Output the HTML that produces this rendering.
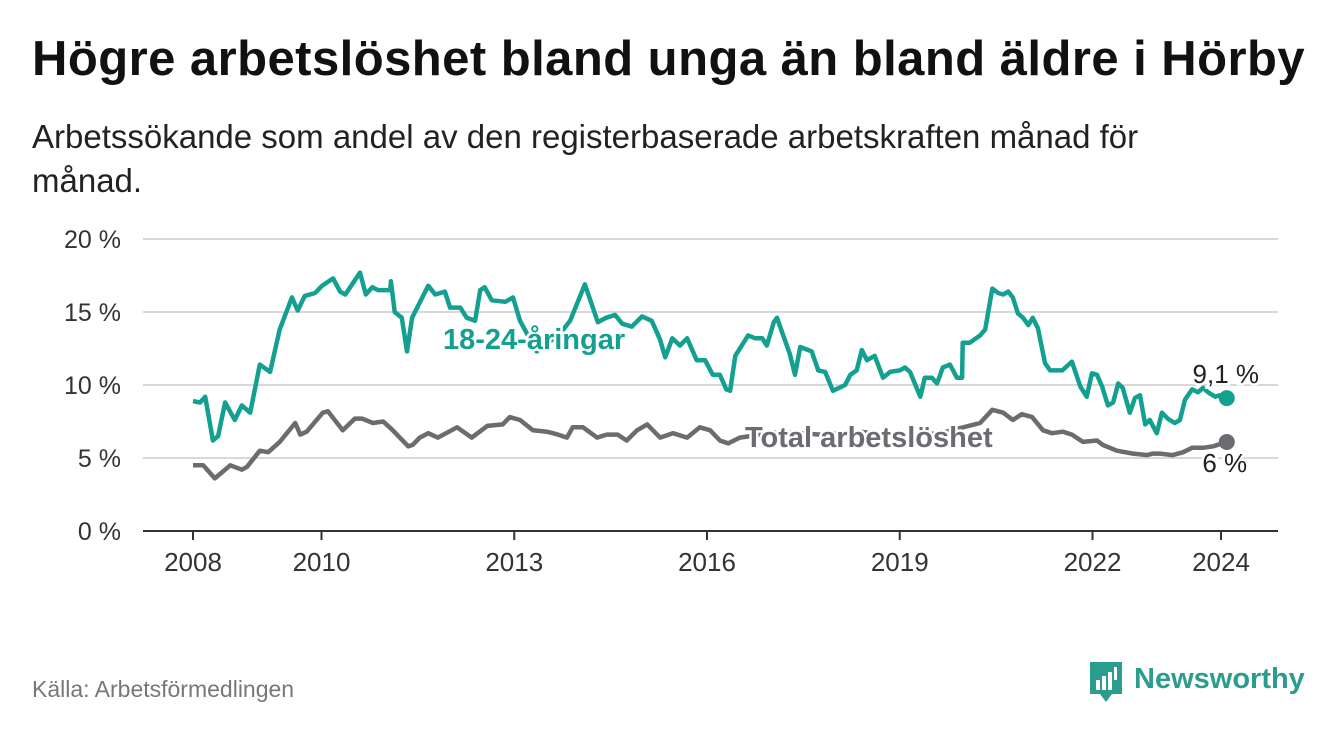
<!DOCTYPE html>
<html><head><meta charset="utf-8"><style>
body{margin:0;background:#fff;font-family:"Liberation Sans",sans-serif;}
#wrap{position:relative;width:1340px;height:734px;overflow:hidden;}
h1{position:absolute;left:32px;top:31px;margin:0;font-size:49px;font-weight:bold;color:#111;white-space:nowrap;letter-spacing:0.45px;}
.sub{position:absolute;left:32px;top:115px;margin:0;font-size:33px;line-height:44px;color:#222;width:1185px;}
.src{position:absolute;left:32px;top:676px;font-size:23px;color:#777;}
.logo{position:absolute;left:1088px;top:660px;}
</style></head><body><div id="wrap">
<h1>Högre arbetslöshet bland unga än bland äldre i Hörby</h1>
<p class="sub">Arbetssökande som andel av den registerbaserade arbetskraften månad för månad.</p>
<svg id="chart" width="1340" height="734" style="position:absolute;left:0;top:0"></svg>
<div class="src">Källa: Arbetsförmedlingen</div>
<div class="logo">
<svg width="220" height="46"><path d="M2 2h32v32h-10l-6 8-6-8h-10z" fill="#2a9d8f"/><rect x="8" y="20" width="4" height="10" fill="#fff"/><rect x="14" y="16" width="4" height="14" fill="#fff"/><rect x="20" y="12" width="4" height="18" fill="#fff"/><rect x="26" y="7" width="3" height="13" fill="#fff"/><text x="46" y="28" font-size="29" font-weight="bold" fill="#2a9d8f" font-family="Liberation Sans,sans-serif">Newsworthy</text></svg></div>
</div>
<script>
const yTicks=[0,5,10,15,20];
const xTicks=[2008,2010,2013,2016,2019,2022,2024];
const youthYears=[2008.00,2008.11,2008.19,2008.31,2008.39,2008.50,2008.65,2008.76,2008.89,2009.04,2009.20,2009.35,2009.54,2009.63,2009.74,2009.90,2010.01,2010.18,2010.29,2010.37,2010.60,2010.69,2010.79,2010.88,2011.07,2011.08,2011.14,2011.25,2011.33,2011.41,2011.66,2011.77,2011.92,2012.00,2012.16,2012.26,2012.39,2012.47,2012.54,2012.65,2012.86,2012.98,2013.09,2013.35,2013.56,2013.71,2013.87,2014.10,2014.30,2014.43,2014.57,2014.68,2014.83,2014.99,2015.14,2015.27,2015.35,2015.46,2015.58,2015.69,2015.84,2015.97,2016.09,2016.20,2016.30,2016.36,2016.44,2016.64,2016.75,2016.86,2016.93,2017.04,2017.09,2017.29,2017.37,2017.45,2017.63,2017.73,2017.84,2017.96,2018.15,2018.23,2018.33,2018.41,2018.49,2018.61,2018.74,2018.85,2019.00,2019.08,2019.16,2019.32,2019.39,2019.50,2019.58,2019.67,2019.78,2019.89,2019.97,2019.98,2020.09,2020.25,2020.33,2020.44,2020.53,2020.61,2020.69,2020.76,2020.84,2020.92,2021.00,2021.07,2021.15,2021.26,2021.34,2021.53,2021.68,2021.81,2021.91,2021.99,2022.07,2022.15,2022.24,2022.32,2022.40,2022.47,2022.58,2022.66,2022.74,2022.82,2022.89,2023.00,2023.08,2023.17,2023.28,2023.36,2023.44,2023.55,2023.64,2023.72,2023.80,2023.91,2023.98,2024.09];
const youthValues=[8.9,8.8,9.2,6.2,6.5,8.8,7.6,8.6,8.1,11.4,10.9,13.8,16.0,15.1,16.1,16.3,16.8,17.3,16.4,16.2,17.7,16.2,16.7,16.5,16.5,17.1,15.0,14.6,12.3,14.6,16.8,16.2,16.4,15.3,15.3,14.6,14.4,16.5,16.7,15.8,15.7,16.0,14.4,12.3,13.0,13.5,14.4,16.9,14.3,14.6,14.8,14.2,14.0,14.7,14.4,13.1,11.9,13.2,12.7,13.2,11.7,11.7,10.7,10.7,9.7,9.6,12.0,13.4,13.2,13.2,12.7,14.3,14.6,12.1,10.7,12.6,12.3,11.0,10.9,9.6,10.0,10.7,11.0,12.4,11.7,12.0,10.5,10.9,11.0,11.2,10.9,9.2,10.5,10.5,10.1,11.2,11.4,10.5,10.5,12.9,12.9,13.4,13.8,16.6,16.3,16.2,16.4,16.0,14.9,14.6,14.1,14.6,13.9,11.5,11.0,11.0,11.6,9.9,9.2,10.8,10.7,9.9,8.6,8.8,10.1,9.8,8.1,9.1,9.3,7.3,7.6,6.7,8.1,7.7,7.4,7.6,9.0,9.7,9.5,9.8,9.5,9.2,9.3,9.1];
const totalYears=[2008.00,2008.16,2008.34,2008.58,2008.76,2008.84,2009.04,2009.17,2009.35,2009.59,2009.67,2009.77,2010.02,2010.10,2010.33,2010.52,2010.63,2010.80,2010.96,2011.11,2011.35,2011.42,2011.53,2011.66,2011.81,2012.11,2012.34,2012.58,2012.82,2012.93,2013.09,2013.29,2013.51,2013.68,2013.82,2013.91,2014.07,2014.29,2014.44,2014.61,2014.75,2014.91,2015.07,2015.27,2015.47,2015.69,2015.89,2016.05,2016.20,2016.33,2016.51,2017.14,2017.76,2018.38,2019.00,2019.63,2020.25,2020.44,2020.61,2020.76,2020.90,2021.06,2021.23,2021.37,2021.54,2021.68,2021.85,2022.07,2022.16,2022.38,2022.63,2022.85,2022.94,2023.05,2023.25,2023.41,2023.55,2023.72,2023.88,2024.09];
const totalValues=[4.5,4.5,3.6,4.5,4.2,4.4,5.5,5.4,6.1,7.4,6.6,6.8,8.1,8.2,6.9,7.7,7.7,7.4,7.5,6.9,5.8,5.9,6.4,6.7,6.4,7.1,6.4,7.2,7.3,7.8,7.6,6.9,6.8,6.6,6.4,7.1,7.1,6.4,6.6,6.6,6.2,6.9,7.3,6.4,6.7,6.4,7.1,6.9,6.2,6.0,6.4,6.8,6.6,6.8,6.5,6.7,7.4,8.3,8.1,7.6,8.0,7.8,6.9,6.7,6.8,6.6,6.1,6.2,5.9,5.5,5.3,5.2,5.3,5.3,5.2,5.4,5.7,5.7,5.8,6.1];
const lastYouthLabel="9,1 %", lastTotalLabel="6 %";

const NS="http://www.w3.org/2000/svg";const svg=document.getElementById('chart');
const X=y=>193+(y-2008)*64.25, Y=v=>531-v*14.6;
function mk(t,a,p){const e=document.createElementNS(NS,t);for(const k in a)e.setAttribute(k,a[k]);(p||svg).appendChild(e);return e;}
yTicks.forEach(t=>{
 const l=mk('line',{x1:143,x2:1278,y1:Y(t),y2:Y(t),stroke:t===0?'#333':'#d8d8d8','stroke-width':2});
 
 
 const tx=mk('text',{x:121,y:Y(t)+9,'text-anchor':'end','font-size':25,fill:'#333'});tx.textContent=t+' %';
 
 
});
xTicks.forEach(t=>{
 const l=mk('line',{x1:X(t),x2:X(t),y1:531,y2:540,stroke:'#333','stroke-width':2});
 
 
 const tx=mk('text',{x:X(t),y:571,'text-anchor':'middle','font-size':26,fill:'#333'});tx.textContent=t;
 
 
});
function line(xs,vs,col,name){
 const d=xs.map((x,i)=>(i?'L':'M')+X(x).toFixed(1)+' '+Y(vs[i]).toFixed(1)).join('');
 const p=mk('path',{d:d,fill:'none',stroke:col,'stroke-width':4.5,'stroke-linejoin':'round'});
 
 
 const c=mk('circle',{cx:X(xs[xs.length-1]),cy:Y(vs[vs.length-1]),r:8,fill:col});
 
 
}
line(totalYears,totalValues,'#6b6b70','total');
line(youthYears,youthValues,'#14a090','youth');
function lab(x,y,s,col,bold,size,name,anchor){
 const t=mk('text',{x:x,y:y,'font-size':size,'font-weight':bold?'bold':'normal',fill:col,stroke:'#fff','stroke-width':5,'paint-order':'stroke','text-anchor':anchor||'start'});
 t.textContent=s;
 
 
}
lab(443,349,'18-24-åringar','#14a090',true,29,'youth-series-label');
lab(745,447,'Total arbetslöshet','#6b6b70',true,29,'total-series-label');
lab(X(youthYears[youthYears.length-1])-1,383,lastYouthLabel,'#222',false,26,'youth-end-value','middle');
lab(X(totalYears[totalYears.length-1])-2,472,lastTotalLabel,'#222',false,26,'total-end-value','middle');
</script></body></html>
